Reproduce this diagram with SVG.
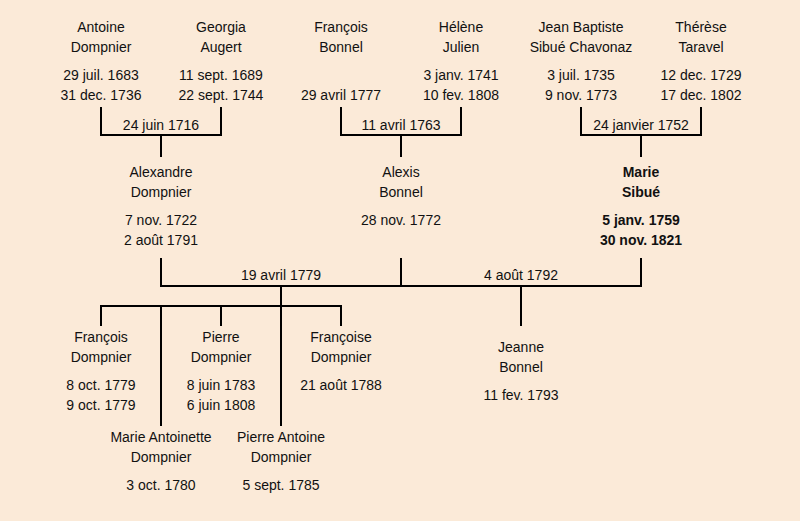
<svg xmlns="http://www.w3.org/2000/svg" width="800" height="521" viewBox="0 0 800 521">
<style>
text{font-family:"Liberation Sans","DejaVu Sans",sans-serif;font-size:14px;fill:#111;text-anchor:middle}
.b{font-weight:bold}
.c path{fill:none;stroke:#000;stroke-width:2}
</style>
<rect width="800" height="521" fill="#fbead8"/>
<g class="c" id="connectors">
<path d="M101 107V135H221V107M161 135V157"/>
<path d="M341 107V135H461V107M401 135V157"/>
<path d="M581 107V135H701V107M641 135V157"/>
<path d="M161 258V286H641V258M401 258V286M521 286V326"/>
<path d="M281 286V426M101 326V306H341V326M221 306V326M161 306V426"/>
</g>
<g id="antoine"><text x="101" y="32">Antoine</text><text x="101" y="52">Dompnier</text><text x="101" y="80">29 juil. 1683</text><text x="101" y="100">31 dec. 1736</text></g>
<g id="georgia"><text x="221" y="32">Georgia</text><text x="221" y="52">Augert</text><text x="221" y="80">11 sept. 1689</text><text x="221" y="100">22 sept. 1744</text></g>
<g id="francois-b"><text x="341" y="32">François</text><text x="341" y="52">Bonnel</text><text x="341" y="100">29 avril 1777</text></g>
<g id="helene"><text x="461" y="32">Hélène</text><text x="461" y="52">Julien</text><text x="461" y="80">3 janv. 1741</text><text x="461" y="100">10 fev. 1808</text></g>
<g id="jeanbaptiste"><text x="581" y="32">Jean Baptiste</text><text x="581" y="52">Sibué Chavonaz</text><text x="581" y="80">3 juil. 1735</text><text x="581" y="100">9 nov. 1773</text></g>
<g id="therese"><text x="701" y="32">Thérèse</text><text x="701" y="52">Taravel</text><text x="701" y="80">12 dec. 1729</text><text x="701" y="100">17 dec. 1802</text></g>
<g id="m1"><text x="161" y="130">24 juin 1716</text></g>
<g id="m2"><text x="401" y="130">11 avril 1763</text></g>
<g id="m3"><text x="641" y="130">24 janvier 1752</text></g>
<g id="alexandre"><text x="161" y="177">Alexandre</text><text x="161" y="197">Dompnier</text><text x="161" y="225">7 nov. 1722</text><text x="161" y="245">2 août 1791</text></g>
<g id="alexis"><text x="401" y="177">Alexis</text><text x="401" y="197">Bonnel</text><text x="401" y="225">28 nov. 1772</text></g>
<g id="marie" class="b"><text class="b" x="641" y="177">Marie</text><text class="b" x="641" y="197">Sibué</text><text class="b" x="641" y="225">5 janv. 1759</text><text class="b" x="641" y="245">30 nov. 1821</text></g>
<g id="m4"><text x="281" y="280">19 avril 1779</text></g>
<g id="m5"><text x="521" y="280">4 août 1792</text></g>
<g id="francois-d"><text x="101" y="342">François</text><text x="101" y="362">Dompnier</text><text x="101" y="390">8 oct. 1779</text><text x="101" y="410">9 oct. 1779</text></g>
<g id="pierre"><text x="221" y="342">Pierre</text><text x="221" y="362">Dompnier</text><text x="221" y="390">8 juin 1783</text><text x="221" y="410">6 juin 1808</text></g>
<g id="francoise"><text x="341" y="342">Françoise</text><text x="341" y="362">Dompnier</text><text x="341" y="390">21 août 1788</text></g>
<g id="marieantoinette"><text x="161" y="442">Marie Antoinette</text><text x="161" y="462">Dompnier</text><text x="161" y="490">3 oct. 1780</text></g>
<g id="pierreantoine"><text x="281" y="442">Pierre Antoine</text><text x="281" y="462">Dompnier</text><text x="281" y="490">5 sept. 1785</text></g>
<g id="jeanne"><text x="521" y="352">Jeanne</text><text x="521" y="372">Bonnel</text><text x="521" y="400">11 fev. 1793</text></g>
</svg>
